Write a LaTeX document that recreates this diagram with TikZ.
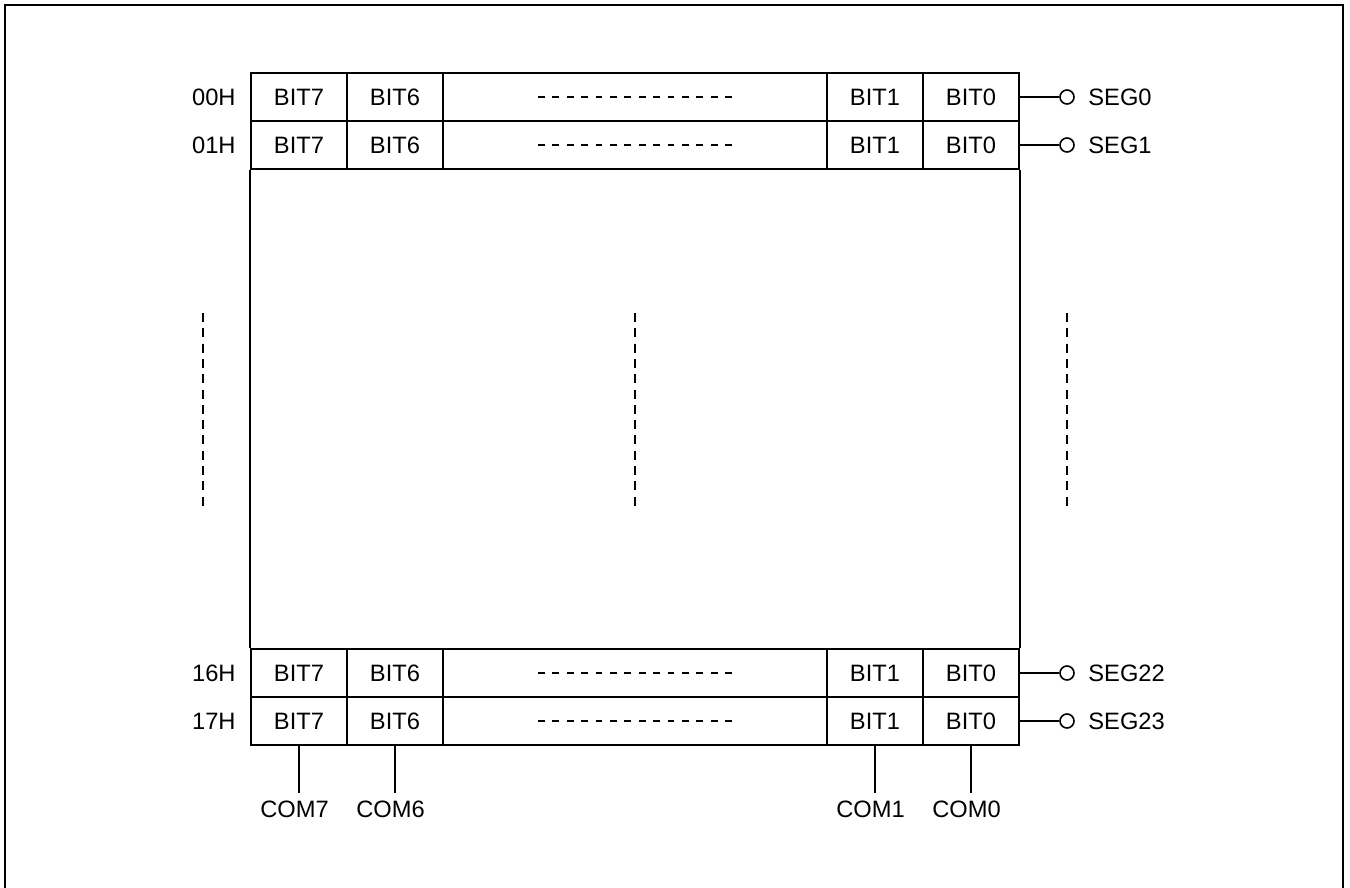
\documentclass[tikz,border=0pt]{standalone}
\usepackage{fontspec}
\setmainfont{Liberation Sans}
\newcommand\diagfont{\fontsize{11.85}{14}\selectfont}
\tikzset{
  cell/.style={draw, line width=0.9pt, minimum width=48pt, minimum height=24pt, inner sep=0pt, font=\diagfont},
  widecell/.style={cell, minimum width=192pt},
  lbl/.style={inner sep=0pt, font=\diagfont},
  pin/.style={circle, draw, line width=0.8pt, minimum size=7pt, inner sep=0pt},
  wire/.style={line width=0.8pt},
  hdash/.style={line width=1pt, dash pattern=on 3.4pt off 3.8pt},
  vdash/.style={line width=1pt, dash pattern=on 4.5pt off 3.15pt},
  frame/.style={line width=1.25pt}
}
\begin{document}
\begin{tikzpicture}[x=0.5pt,y=-0.5pt]
\useasboundingbox (0,0) rectangle (1350,888);
\draw[frame] (5,888) -- (5,5) -- (1343,5) -- (1343,888);
\foreach \r/\y/\lab/\seg in {a/97/00H/SEG0, b/145/01H/SEG1, c/673/16H/SEG22, d/721/17H/SEG23} {
  \node[cell] (\r-7) at (299,\y) {BIT7};
  \node[cell] (\r-6) at (395,\y) {BIT6};
  \node[widecell] (\r-m) at (635,\y) {};
  \node[cell] (\r-1) at (875,\y) {BIT1};
  \node[cell] (\r-0) at (971,\y) {BIT0};
  \node[lbl, anchor=east] (\r-l) at (236,\y) {\lab};
  \node[pin] (\r-c) at (1067,\y) {};
  \node[lbl, anchor=west] (\r-s) at (1088,\y) {\seg};
  \draw[wire] (\r-0.east) -- (\r-c.west);
  \draw[hdash] (538,\y) -- (733,\y);
}
\draw[line width=0.9pt] (b-7.south west) -- (c-7.north west);
\draw[line width=0.9pt] (b-0.south east) -- (c-0.north east);
\foreach \x in {203,635,1067} {
  \draw[vdash] (\x,313) -- (\x,507);
}
\foreach \n/\x in {7/299,6/395,1/875,0/971} {
  \coordinate (e\n) at (\x,793);
  \draw[wire] (d-\n.south) -- (e\n);
  \node[lbl] (com\n) at (\x-4.5,809) {COM\n};
}
\end{tikzpicture}
\end{document}
